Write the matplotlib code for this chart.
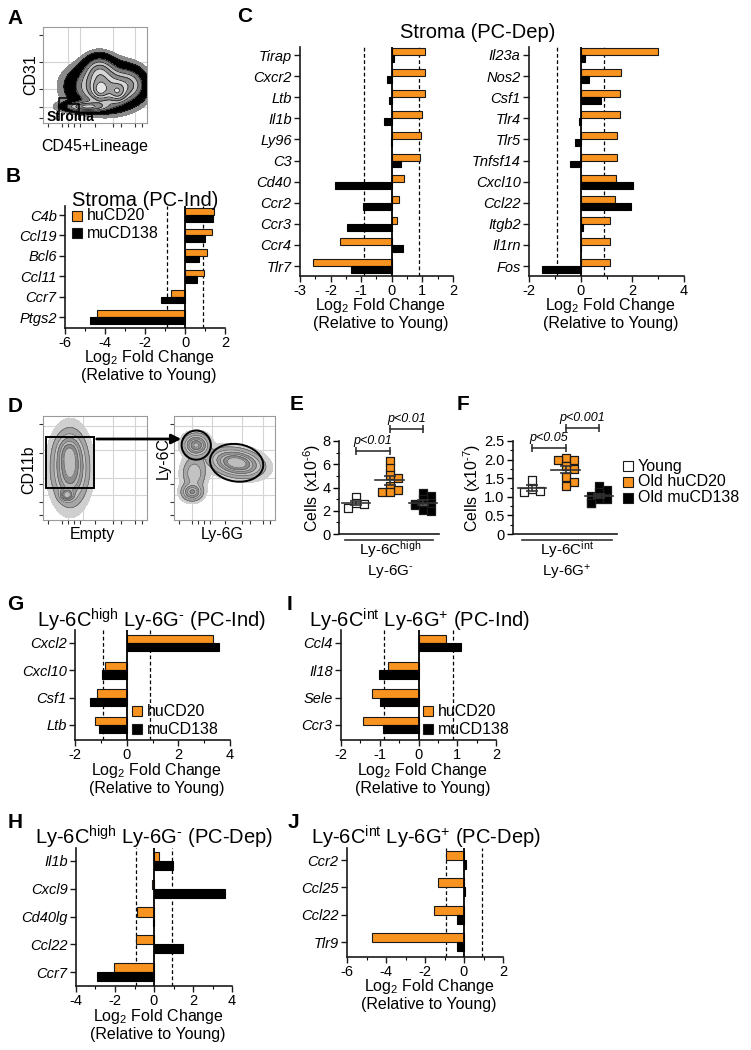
import numpy as np
import matplotlib
matplotlib.use('Agg')
import matplotlib.pyplot as plt
from matplotlib.patches import Rectangle, Ellipse, FancyArrowPatch, Polygon
from matplotlib.lines import Line2D
from matplotlib.ticker import MultipleLocator, FuncFormatter

plt.rcParams['font.family'] = ['Liberation Sans', 'DejaVu Sans']
plt.rcParams['mathtext.fontset'] = 'custom'
plt.rcParams['mathtext.rm'] = 'Liberation Sans'
plt.rcParams['mathtext.it'] = 'Liberation Sans:italic'
plt.rcParams['mathtext.bf'] = 'Liberation Sans:bold'
plt.rcParams['axes.unicode_minus'] = False

HY = '\u2010'  # short hyphen for superscripts

# ---------------- data ----------------
b_genes = ['C4b', 'Ccl19', 'Bcl6', 'Ccl11', 'Ccr7', 'Ptgs2']
b_hu = [1.45, 1.35, 1.10, 0.93, -0.70, -4.40]
b_mu = [1.38, 1.00, 0.68, 0.60, -1.20, -4.75]

c1_genes = ['Tirap', 'Cxcr2', 'Ltb', 'Il1b', 'Ly96', 'C3', 'Cd40', 'Ccr2', 'Ccr3', 'Ccr4', 'Tlr7']
c1_hu = [1.10, 1.10, 1.08, 0.98, 0.95, 0.92, 0.40, 0.22, 0.18, -1.70, -2.59]
c1_mu = [0.07, -0.17, -0.10, -0.25, -0.04, 0.30, -1.86, -0.93, -1.47, 0.35, -1.32]

c2_genes = ['Il23a', 'Nos2', 'Csf1', 'Tlr4', 'Tlr5', 'Tnfsf14', 'Cxcl10', 'Ccl22', 'Itgb2', 'Il1rn', 'Fos']
c2_hu = [2.99, 1.57, 1.54, 1.51, 1.42, 1.42, 1.38, 1.32, 1.15, 1.12, 1.12]
c2_mu = [0.15, 0.32, 0.80, -0.06, -0.23, -0.43, 2.03, 1.95, 0.09, 0.03, -1.50]

g_genes = ['Cxcl2', 'Cxcl10', 'Csf1', 'Ltb']
g_hu = [3.35, -0.84, -1.14, -1.23]
g_mu = [3.57, -0.97, -1.43, -1.06]

i_genes = ['Ccl4', 'Il18', 'Sele', 'Ccr3']
i_hu = [0.70, -0.78, -1.20, -1.43]
i_mu = [1.09, -1.03, -1.00, -0.91]

h_genes = ['Il1b', 'Cxcl9', 'Cd40lg', 'Ccl22', 'Ccr7']
h_hu = [0.26, -0.09, -0.85, -0.94, -2.05]
h_mu = [0.97, 3.62, -0.03, 1.50, -2.90]

j_genes = ['Ccr2', 'Ccl25', 'Ccl22', 'Tlr9']
j_hu = [-0.90, -1.33, -1.56, -4.70]
j_mu = [0.12, 0.03, -0.36, -0.36]

threshold = [-0.9, 0.9]

e_young = [3.2, 2.65, 2.6, 2.2]
e_hu = [6.25, 5.66, 5.04, 4.8, 4.1, 3.77, 3.63, 3.58]
e_mu = [3.55, 3.27, 2.99, 2.7, 2.6, 2.5, 2.08, 1.94]

f_young = [1.45, 1.22, 1.15, 1.13]
f_hu = [2.04, 1.99, 1.99, 1.84, 1.75, 1.54, 1.41, 1.28]
f_mu = [1.30, 1.17, 1.13, 1.02, 0.95, 0.93, 0.84, 0.83]

e_pvals = ['p<0.01', 'p<0.01']
f_pvals = ['p<0.05', 'p<0.001']
group_names = ['Young', 'Old huCD20', 'Old muCD138']

# flow populations: (cx, cy, sx, sy, angle, weight) in 0-100 axis units
a_pops = [(60, 38, 17, 12, 0, 1.0), (54, 54, 8, 9, 0, 0.55), (42, 17, 12, 3, 0, 0.8),
          (55, 34, 5, 6, 0, 0.6), (72, 32, 5, 6, 0, 0.6), (84, 40, 8, 9, 0, 0.35)]
d1_pops = [(26, 50, 8, 16, 0, 1.0), (23, 24, 3.5, 3, 0, 0.9), (25, 66, 6, 8, 0, 0.4)]
d2_pops = [(22, 72, 6, 5, 0, 0.8), (62, 55, 12, 6, -10, 1.0), (18, 27, 5, 4, 0, 0.6),
           (20, 45, 6, 8, 0, 0.25)]

ORANGE = '#F7931E'
W, H = 751, 1050
fig = plt.figure(figsize=(W / 100, H / 100), dpi=100)


def add_ax(x0, y0, x1, y1):
    return fig.add_axes([x0 / W, 1 - y1 / H, (x1 - x0) / W, (y1 - y0) / H])


def ftext(x, y, s, ha='center', va='center', **kw):
    fig.text(x / W, 1 - y / H, s, ha=ha, va=va, **kw)


def fline(xs, ys, **kw):
    fig.add_artist(Line2D([x / W for x in xs], [1 - y / H for y in ys],
                          transform=fig.transFigure, **kw))


def style_spines(ax):
    for s in ['top', 'right']:
        ax.spines[s].set_visible(False)
    for s in ['left', 'bottom']:
        ax.spines[s].set_linewidth(1.2)
        ax.spines[s].set_color('#1a1a1a')


def bar_panel(box, cat_y, genes, hu, mu, xlim, major, minor, bh):
    x0, y0, x1, y1 = box
    ax = add_ax(x0, y0, x1, y1)
    n = len(genes)
    first, last = cat_y
    sp = (last - first) / (n - 1)
    ax.set_ylim((n - 1) + (y1 - last) / sp, -(first - y0) / sp)
    ax.set_xlim(*xlim)
    idx = np.arange(n)
    ax.barh(idx - bh / 2, hu, height=bh, color=ORANGE, edgecolor='#1a1a1a', linewidth=0.8, zorder=2)
    ax.barh(idx + bh / 2, mu, height=bh, color='black', edgecolor='black', linewidth=0.8, zorder=2)
    ax.axvline(0, color='black', lw=1.3, zorder=3)
    for d in threshold:
        ax.axvline(d, color='black', lw=0.9, ls=(0, (3, 2)), zorder=1)
    style_spines(ax)
    ax.set_yticks(idx)
    ax.set_yticklabels(genes, fontstyle='italic', fontsize=10)
    ax.xaxis.set_major_locator(MultipleLocator(major))
    ax.xaxis.set_minor_locator(MultipleLocator(minor))
    ax.tick_params(axis='both', which='major', direction='out', length=4, width=1,
                   labelsize=10.5, pad=2, color='#1a1a1a')
    ax.tick_params(axis='x', which='minor', direction='out', length=2.5, width=0.8)
    ax.set_facecolor('none')
    cx = (x0 + x1) / 2 + 4
    ftext(cx, y1 + 30, r'Log$_2$ Fold Change', fontsize=11.5)
    ftext(cx, y1 + 48, '(Relative to Young)', fontsize=11.5)
    return ax


def legend_px(x, ys, labels, colors, size=10, fs=11.5):
    for y, lab, col in zip(ys, labels, colors):
        fig.add_artist(Rectangle((x / W, 1 - (y + size / 2) / H), size / W, size / H,
                                 transform=fig.transFigure, facecolor=col,
                                 edgecolor='#1a1a1a', lw=0.8))
        ftext(x + size + 5, y, lab, ha='left', fontsize=fs)


def swarm(vals, scale, step=4.0, gap=6.0):
    placed = []
    offs = [0.0] * len(vals)
    order = np.argsort(vals)[::-1]
    for k in order:
        yp = vals[k] * scale
        xo = 0.0
        for c in [0, 1, -1, 2, -2]:
            xo = c * step
            if all(not (abs(xo - px) < gap and abs(yp - py) < gap) for px, py in placed):
                break
        placed.append((xo, yp))
        offs[k] = xo
    return np.array(offs)


def dot_panel(box, gx_px, groups, ymax, major, minor, fmt, pvals, br_y):
    x0, y0, x1, y1 = box
    ax = add_ax(x0, y0, x1, y1)
    unit = (gx_px[2] - gx_px[0]) / 2
    ax.set_xlim(1 - (gx_px[0] - x0) / unit, 3 + (x1 - gx_px[2]) / unit)
    ax.set_ylim(0, ymax)
    yscale = (y1 - y0) / ymax
    faces = ['white', ORANGE, 'black']
    for gi, vals in enumerate(groups):
        vals = np.array(vals)
        offs = swarm(vals, yscale) / unit
        ax.scatter(gi + 1 + offs, vals, marker='s', s=28, facecolor=faces[gi],
                   edgecolor='#1a1a1a', linewidth=0.9, zorder=3, clip_on=False)
        m = vals.mean()
        se = vals.std(ddof=1) / np.sqrt(len(vals))
        ax.plot([gi + 1 - 0.42, gi + 1 + 0.42], [m, m], color='#333333', lw=1.2, zorder=4)
        ax.errorbar([gi + 1], [m], yerr=[se], color='#333333', lw=1.2, capsize=4,
                    capthick=1.2, zorder=4)
    style_spines(ax)
    ax.set_xticks([])
    ax.yaxis.set_major_locator(MultipleLocator(major))
    ax.yaxis.set_minor_locator(MultipleLocator(minor))
    ax.yaxis.set_major_formatter(FuncFormatter(fmt))
    ax.tick_params(axis='y', which='major', length=4, width=1, labelsize=10.5, pad=2)
    ax.tick_params(axis='y', which='minor', length=2.5, width=0.8)
    for (a, b), yv, txt in zip([(1, 2), (2, 3)], br_y, pvals):
        ax.plot([a, b], [yv, yv], color='#333333', lw=1.2, clip_on=False,
                marker='|', markersize=6, markeredgewidth=1.2)
        ax.annotate(txt, ((a + b) / 2, yv), xytext=(0, 3), textcoords='offset points',
                    ha='center', va='bottom', fontsize=9, fontstyle='italic',
                    annotation_clip=False)
    return ax


def flow_panel(box, pops, levels, colors, lcolor, gridx, gridy, lw=0.6):
    ax = add_ax(*box)
    g = np.linspace(0, 100, 400)
    X, Y = np.meshgrid(g, g)
    Z = np.zeros_like(X)
    for cx, cy, sx, sy, ang, w in pops:
        a = np.deg2rad(ang)
        dx, dy = X - cx, Y - cy
        u = dx * np.cos(a) + dy * np.sin(a)
        v = -dx * np.sin(a) + dy * np.cos(a)
        Z += w * np.exp(-0.5 * ((u / sx) ** 2 + (v / sy) ** 2))
    Z /= Z.max()
    for gxv in gridx:
        ax.axvline(gxv, color='#d4d4d4', lw=0.8, zorder=0)
    for gyv in gridy:
        ax.axhline(gyv, color='#d4d4d4', lw=0.8, zorder=0)
    ax.contourf(X, Y, Z, levels=levels, colors=colors, zorder=1)
    ax.contour(X, Y, Z, levels=levels[1:-1], colors=lcolor, linewidths=lw, zorder=2)
    ax.set_xlim(0, 100)
    ax.set_ylim(0, 100)
    for s in ax.spines.values():
        s.set_color('#9a9a9a')
        s.set_linewidth(0.8)
    ax.set_xticks([5, 18, 24, 30, 36, 50, 67, 75, 88, 95])
    ax.set_yticks([5, 17, 35, 64, 92])
    ax.set_xticklabels([])
    ax.set_yticklabels([])
    ax.tick_params(length=3, width=0.8, color='#333333')
    return ax


# ---------------- Panel A ----------------
axA = flow_panel((43, 27, 147, 123), a_pops,
                 [0.015, 0.04, 0.16, 0.26, 0.38, 0.52, 0.68, 0.85, 1.01],
                 ['#8a8a8a', 'black', '#7a7a7a', '#c4c4c4', '#8e8e8e', '#d6d6d6',
                  '#9e9e9e', '#e4e4e4'], '#222222',
                 [24, 36, 67, 88], [64, 35, 17])
axA.add_patch(Polygon([(15, 3), (15, 26), (26, 26), (26, 20), (35, 20), (35, 3)],
                      closed=False, fill=False, edgecolor='black', lw=1.1, zorder=5))
ftext(70, 117, 'Stroma', fontsize=10, fontweight='bold')
ftext(31, 75, 'CD31', fontsize=11.5, rotation=90)
ftext(95, 147, 'CD45+Lineage', fontsize=11.5)
ftext(15, 18, 'A', fontsize=15, fontweight='bold')

# ---------------- Panel B ----------------
bar_panel((65, 206, 225, 328), (215, 317), b_genes, b_hu, b_mu, (-6, 2), 2, 1, 0.32)
ftext(145, 200, 'Stroma (PC-Ind)', fontsize=14.5)
legend_px(72, [216, 233], ['huCD20', 'muCD138'], [ORANGE, 'black'])
ftext(13, 177, 'B', fontsize=15, fontweight='bold')

# ---------------- Panel C ----------------
bar_panel((300, 47, 453, 276), (55, 266), c1_genes, c1_hu, c1_mu, (-3, 2), 1, 0.5, 0.33)
bar_panel((529, 47, 684, 276), (55, 266), c2_genes, c2_hu, c2_mu, (-2, 4), 2, 1, 0.33)
ftext(478, 33, 'Stroma (PC-Dep)', fontsize=14.5)
ftext(245, 17, 'C', fontsize=15, fontweight='bold')

# ---------------- Panel D ----------------
dlev = [0.01, 0.05, 0.14, 0.26, 0.4, 0.56, 0.74, 1.01]
dcol = ['#cfcfcf', '#a6a6a6', '#c2c2c2', '#999999', '#b6b6b6', '#8c8c8c', '#bdbdbd']
axD1 = flow_panel((43, 416, 147, 520), d1_pops, dlev, dcol, '#5a5a5a',
                  [24, 38, 67, 88], [90, 67, 40, 24], lw=0.5)
axD1.add_patch(Rectangle((3, 31), 46, 49, fill=False, edgecolor='black', lw=1.4, zorder=5))
axD2 = flow_panel((174, 416, 275, 520), d2_pops, dlev, dcol, '#5a5a5a',
                  [18, 38, 67, 88], [90, 67, 40, 24], lw=0.5)
axD2.add_patch(Ellipse((22, 72), 29, 28, fill=False, edgecolor='black', lw=1.4, zorder=5))
axD2.add_patch(Ellipse((62, 55), 53, 36, angle=-8, fill=False, edgecolor='black', lw=1.4, zorder=5))
fig.add_artist(FancyArrowPatch((94 / W, 1 - 439 / H), (184 / W, 1 - 439 / H),
                               transform=fig.transFigure, arrowstyle='-|>',
                               mutation_scale=14, lw=2, color='black'))
ftext(29, 470, 'CD11b', fontsize=11.5, rotation=90)
ftext(163, 458, 'Ly-6C', fontsize=11.5, rotation=90)
ftext(92, 535, 'Empty', fontsize=11.5)
ftext(222, 535, 'Ly-6G', fontsize=11.5)
ftext(15, 407, 'D', fontsize=15, fontweight='bold')

# ---------------- Panel E ----------------
dot_panel((339, 441, 439, 534), (356, 389, 423), [e_young, e_hu, e_mu], 8, 2, 1,
          lambda v, p: f'{v:.0f}', e_pvals, [7.14, 9.03])
ftext(312, 488, 'Cells (x10$^{' + HY + '6}$)', fontsize=11.5, rotation=90)
fline([345, 433], [540, 540], color='#333333', lw=1.2)
ftext(390, 550, r'Ly-6C$^{\mathrm{high}}$', fontsize=11)
ftext(390, 572, 'Ly-6G$^{' + HY + '}$', fontsize=11)
ftext(297, 405, 'E', fontsize=15, fontweight='bold')

# ---------------- Panel F ----------------
dot_panel((513, 441, 617, 534), (532, 565, 599), [f_young, f_hu, f_mu], 2.5, 0.5, 0.25,
          lambda v, p: '0' if abs(v) < 1e-9 else f'{v:.1f}', f_pvals, [2.31, 2.85])
ftext(472, 488, 'Cells (x10$^{' + HY + '7}$)', fontsize=11.5, rotation=90)
fline([522, 612], [540, 540], color='#333333', lw=1.2)
ftext(567, 550, r'Ly-6C$^{\mathrm{int}}$', fontsize=11)
ftext(567, 572, r'Ly-6G$^{+}$', fontsize=11)
ftext(463, 405, 'F', fontsize=15, fontweight='bold')
legend_px(623, [466, 482, 498], group_names, ['white', ORANGE, 'black'], size=10, fs=11.5)

# ---------------- Panel G ----------------
bar_panel((75, 630, 230, 740), (643, 725), g_genes, g_hu, g_mu, (-2, 4), 2, 1, 0.30)
ftext(152, 620, r'Ly-6C$^{\mathrm{high}}$ Ly-6G$^{' + HY + '}$ (PC-Ind)', fontsize=14.5)
legend_px(132, [711, 729], ['huCD20', 'muCD138'], [ORANGE, 'black'])
ftext(15, 605, 'G', fontsize=15, fontweight='bold')

# ---------------- Panel I ----------------
bar_panel((341, 630, 496, 740), (643, 725), i_genes, i_hu, i_mu, (-2, 2), 1, 0.5, 0.30)
ftext(419, 620, r'Ly-6C$^{\mathrm{int}}$ Ly-6G$^{+}$ (PC-Ind)', fontsize=14.5)
legend_px(423, [711, 729], ['huCD20', 'muCD138'], [ORANGE, 'black'])
ftext(290, 605, 'I', fontsize=15, fontweight='bold')

# ---------------- Panel H ----------------
bar_panel((76, 848, 232, 986), (861, 972), h_genes, h_hu, h_mu, (-4, 4), 2, 1, 0.33)
ftext(154, 837, r'Ly-6C$^{\mathrm{high}}$ Ly-6G$^{' + HY + '}$ (PC-Dep)', fontsize=14.5)
ftext(15, 822, 'H', fontsize=15, fontweight='bold')

# ---------------- Panel J ----------------
bar_panel((347, 848, 503, 957), (860, 942), j_genes, j_hu, j_mu, (-6, 2), 2, 1, 0.33)
ftext(426, 837, r'Ly-6C$^{\mathrm{int}}$ Ly-6G$^{+}$ (PC-Dep)', fontsize=14.5)
ftext(293, 822, 'J', fontsize=15, fontweight='bold')

fig.savefig('out.png', dpi=100, facecolor='white')
